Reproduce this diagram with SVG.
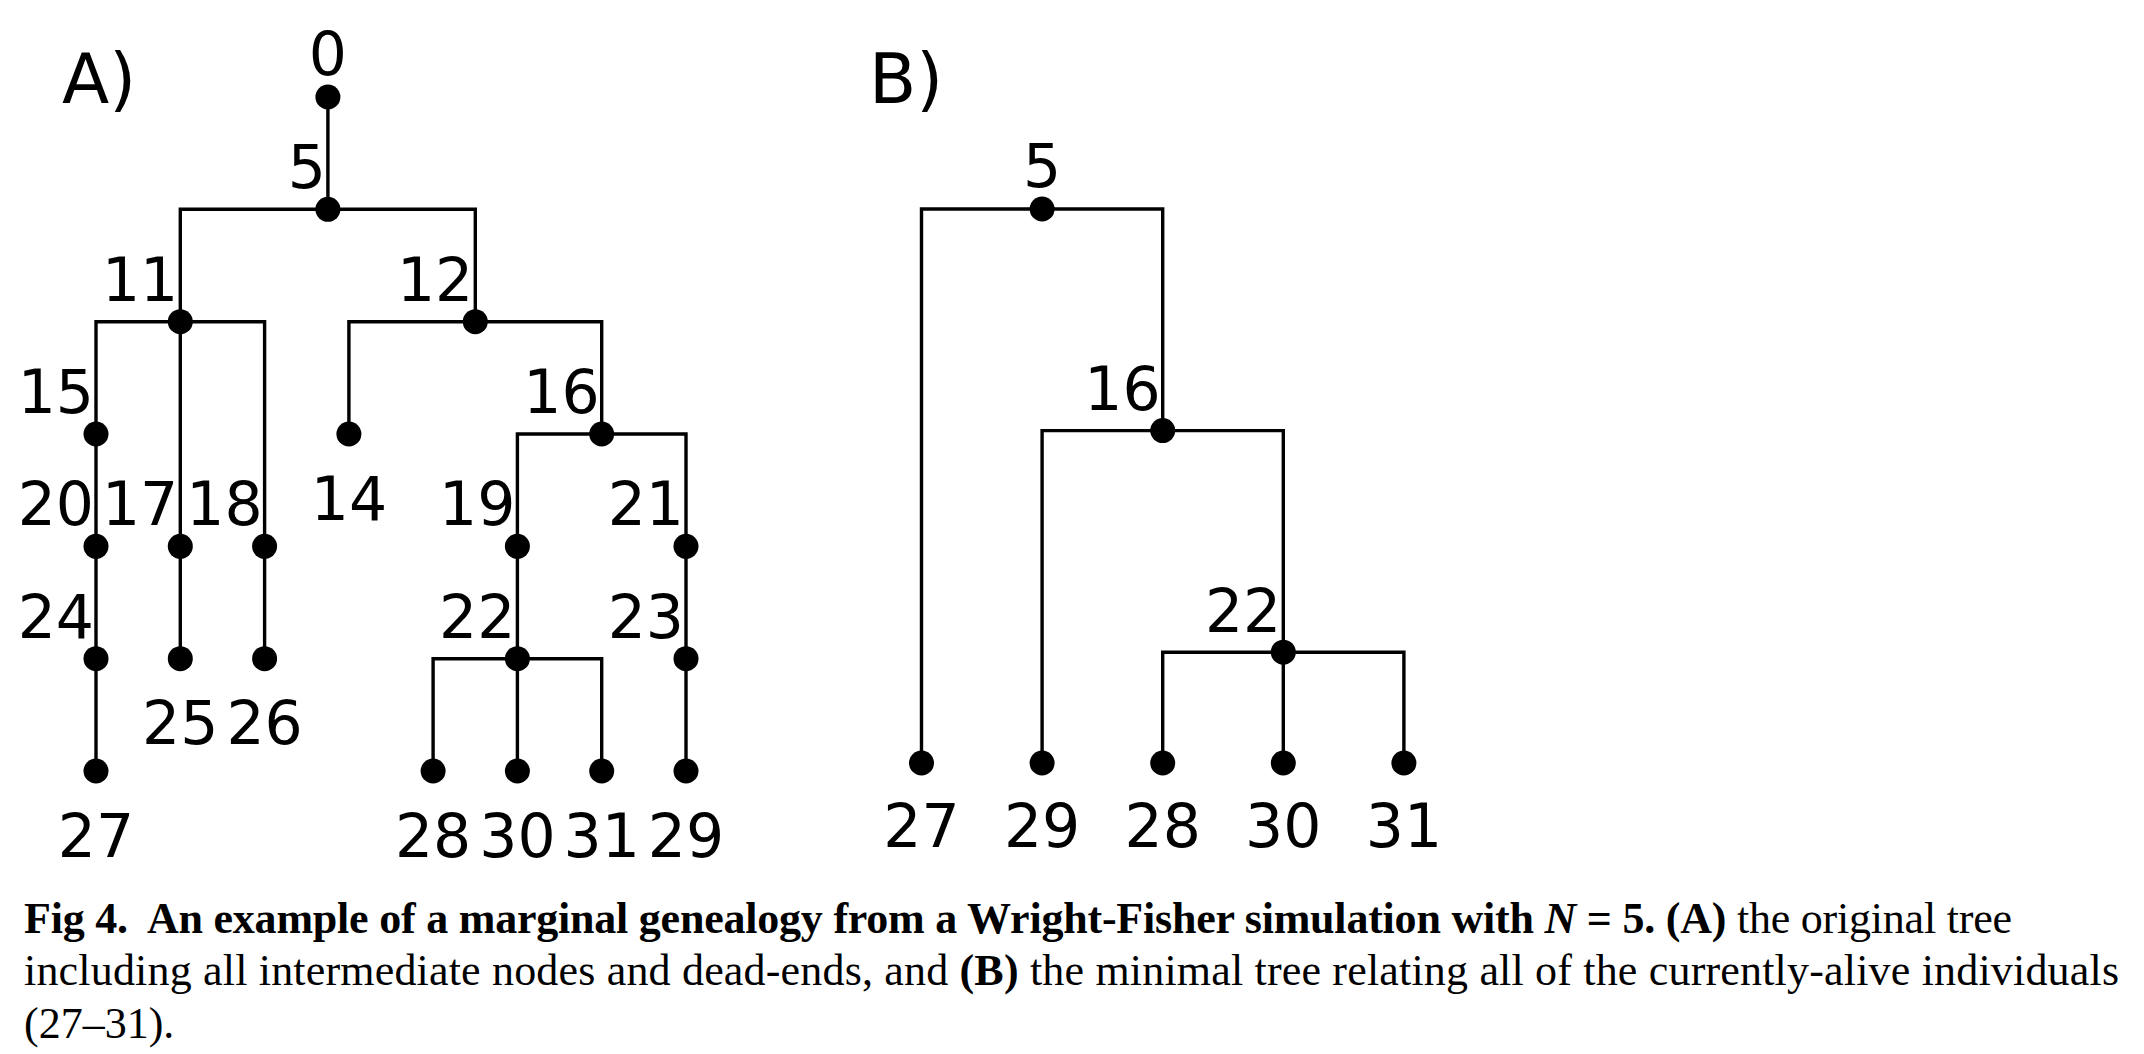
<svg xmlns="http://www.w3.org/2000/svg" width="2144" height="1054" viewBox="0 0 2144 1054">
<style>
.e{stroke:#000;stroke-width:3.4;fill:none;stroke-linecap:square}
.d{fill:#000}
.t{font-family:"DejaVu Sans",sans-serif;font-size:60px;fill:#000}
.m{text-anchor:middle}
.r{text-anchor:end}
.p{font-family:"DejaVu Sans",sans-serif;font-size:69px;fill:#000}
.c{font-family:"Liberation Serif","Times New Roman",serif;font-size:44px;fill:#000}
.b{font-weight:bold}
</style>
<defs>
<circle id="dot" r="12.5"/>
</defs>
<rect width="2144" height="1054" fill="#fff"/>
<text class="p" x="62" y="103">A)</text>
<text class="p" x="869" y="103">B)</text>
<g id="connectors">
<path class="e" d="M327.9 97V209.3M180.3 209.3H475.3M180.3 209.3V546.3M475.3 209.3V321.7M96 321.7H264.6M96 321.7V771M264.6 321.7V658.7M180.3 546.3V658.7M348.9 321.7H601.7M348.9 321.7V434M601.7 321.7V434M517.4 434H686M517.4 434V771M686 434V771M433.1 658.7H601.7M433.1 658.7V771M601.7 658.7V771"/>
<path class="e" d="M921.5 209H1162.7M921.5 209V763M1162.7 209V430.6M1042.1 430.6H1283.3M1042.1 430.6V763M1283.3 430.6V763M1162.7 652.2H1403.9M1162.7 652.2V763M1403.9 652.2V763"/>
</g>
<g id="nA0"><use href="#dot" x="327.9" y="97"/><text class="t m" x="327.9" y="75">0</text></g>
<g id="nA5"><use href="#dot" x="327.9" y="209.3"/><text class="t r" x="325.9" y="188">5</text></g>
<g id="nA11"><use href="#dot" x="180.3" y="321.7"/><text class="t r" x="178.3" y="300.7">11</text></g>
<g id="nA12"><use href="#dot" x="475.3" y="321.7"/><text class="t r" x="473.3" y="300.7">12</text></g>
<g id="nA15"><use href="#dot" x="96" y="434"/><text class="t r" x="94" y="413">15</text></g>
<g id="nA14"><use href="#dot" x="348.9" y="434"/><text class="t m" x="348.9" y="519.5">14</text></g>
<g id="nA16"><use href="#dot" x="601.7" y="434"/><text class="t r" x="599.7" y="413">16</text></g>
<g id="nA20"><use href="#dot" x="96" y="546.3"/><text class="t r" x="94" y="525.3">20</text></g>
<g id="nA17"><use href="#dot" x="180.3" y="546.3"/><text class="t r" x="178.3" y="525.3">17</text></g>
<g id="nA18"><use href="#dot" x="264.6" y="546.3"/><text class="t r" x="262.6" y="525.3">18</text></g>
<g id="nA19"><use href="#dot" x="517.4" y="546.3"/><text class="t r" x="515.4" y="525.3">19</text></g>
<g id="nA21"><use href="#dot" x="686" y="546.3"/><text class="t r" x="684" y="525.3">21</text></g>
<g id="nA24"><use href="#dot" x="96" y="658.7"/><text class="t r" x="94" y="637.7">24</text></g>
<g id="nA25"><use href="#dot" x="180.3" y="658.7"/><text class="t m" x="180.3" y="744.2">25</text></g>
<g id="nA26"><use href="#dot" x="264.6" y="658.7"/><text class="t m" x="264.6" y="744.2">26</text></g>
<g id="nA22"><use href="#dot" x="517.4" y="658.7"/><text class="t r" x="515.4" y="637.7">22</text></g>
<g id="nA23"><use href="#dot" x="686" y="658.7"/><text class="t r" x="684" y="637.7">23</text></g>
<g id="nA27"><use href="#dot" x="96" y="771"/><text class="t m" x="96" y="856.5">27</text></g>
<g id="nA28"><use href="#dot" x="433.1" y="771"/><text class="t m" x="433.1" y="856.5">28</text></g>
<g id="nA30"><use href="#dot" x="517.4" y="771"/><text class="t m" x="517.4" y="856.5">30</text></g>
<g id="nA31"><use href="#dot" x="601.7" y="771"/><text class="t m" x="601.7" y="856.5">31</text></g>
<g id="nA29"><use href="#dot" x="686" y="771"/><text class="t m" x="686" y="856.5">29</text></g>
<g id="nB5"><use href="#dot" x="1042.1" y="209"/><text class="t m" x="1042.1" y="187">5</text></g>
<g id="nB16"><use href="#dot" x="1162.7" y="430.6"/><text class="t r" x="1160.7" y="409.6">16</text></g>
<g id="nB22"><use href="#dot" x="1283.3" y="652.2"/><text class="t r" x="1281.3" y="632">22</text></g>
<g id="nB27"><use href="#dot" x="921.5" y="763"/><text class="t m" x="921.5" y="847">27</text></g>
<g id="nB29"><use href="#dot" x="1042.1" y="763"/><text class="t m" x="1042.1" y="847">29</text></g>
<g id="nB28"><use href="#dot" x="1162.7" y="763"/><text class="t m" x="1162.7" y="847">28</text></g>
<g id="nB30"><use href="#dot" x="1283.3" y="763"/><text class="t m" x="1283.3" y="847">30</text></g>
<g id="nB31"><use href="#dot" x="1403.9" y="763"/><text class="t m" x="1403.9" y="847">31</text></g>
<g id="caption">
<text class="c" x="24" y="933" textLength="1988"><tspan class="b">Fig 4.&#160; An example of a marginal genealogy from a Wright-Fisher simulation with <tspan font-style="italic">N</tspan> = 5. (A)</tspan> the original tree</text>
<text class="c" x="24" y="985" textLength="2095">including all intermediate nodes and dead-ends, and <tspan class="b">(B)</tspan> the minimal tree relating all of the currently-alive individuals</text>
<text class="c" x="24" y="1038">(27–31).</text>
</g>
</svg>
